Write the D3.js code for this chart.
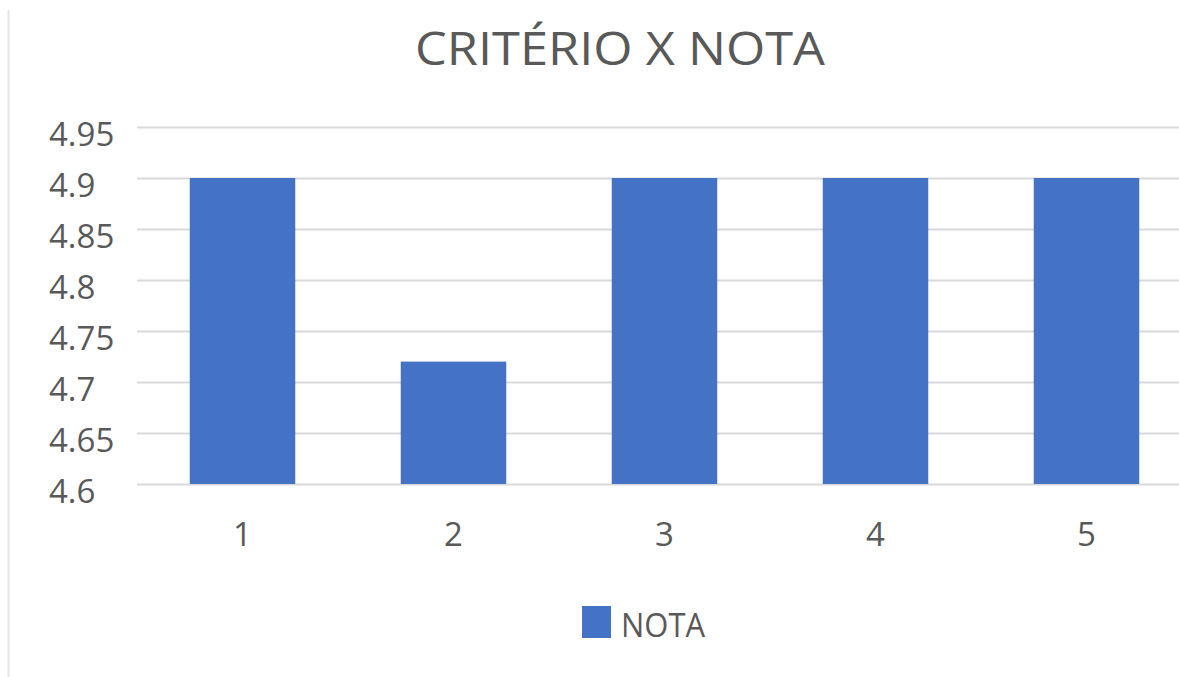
<!DOCTYPE html>
<html>
<head>
<meta charset="utf-8">
<script src="https://cdn.jsdelivr.net/npm/d3@7"></script>
<style>
  body { margin: 0; background: #fff; }
  text { font-family: "Open Sans", sans-serif; fill: #595959; }
</style>
</head>
<body>
<div id="chart"></div>
<script>
// data
const categories = ["1", "2", "3", "4", "5"]
const notas = [4.9, 4.72, 4.9, 4.9, 4.9]
const yTicks = [4.6, 4.65, 4.7, 4.75, 4.8, 4.85, 4.9, 4.95]
const seriesName = "NOTA"
const title = "CRITÉRIO X NOTA"

const W = 1179, H = 677
const margin = { left: 137, right: -13, top: 127, bottom: 193 }

const svg = d3.select("#chart").append("svg")
    .attr("width", W)
    .attr("height", H)

// outer frame line on the left
svg.append("line")
    .attr("x1", 8.5).attr("x2", 8.5)
    .attr("y1", 10).attr("y2", H)
    .attr("stroke", "#e3e3e3")
    .attr("stroke-width", 2)

const x = d3.scaleBand()
    .domain(categories)
    .range([margin.left, W - margin.right])
    .paddingInner(0.5)
    .paddingOuter(0.25)

const y = d3.scaleLinear()
    .domain([4.6, 4.95])
    .range([H - margin.bottom, margin.top])

// gridlines + y labels
const yAxis = d3.axisLeft(y)
    .tickValues(yTicks)
    .tickFormat(d => String(+d.toFixed(2)))
    .tickSizeInner(-(W - margin.left))
    .tickSizeOuter(0)

const gy = svg.append("g")
    .attr("transform", "translate(" + margin.left + ",0)")
    .call(yAxis)
gy.select(".domain").remove()
gy.selectAll("line")
    .attr("stroke", "#d9d9d9")
    .attr("stroke-width", 2)
gy.selectAll("text")
    .attr("x", 49 - margin.left)
    .attr("dy", "0.55em")
    .attr("text-anchor", "start")
    .attr("font-size", "33px")
    .attr("fill", "#595959")

// bars
svg.append("g").selectAll("rect")
    .data(notas)
    .enter()
    .append("rect")
    .attr("x", (d, i) => x(categories[i]))
    .attr("y", d => y(d))
    .attr("width", x.bandwidth())
    .attr("height", d => y(4.6) - y(d))
    .attr("fill", "#4472c4")

// x axis labels
const gx = svg.append("g")
    .attr("transform", "translate(0," + y(4.6) + ")")
    .call(d3.axisBottom(x).tickSize(0))
gx.select(".domain").remove()
gx.selectAll("text")
    .attr("y", 62)
    .attr("dy", 0)
    .attr("font-size", "33px")
    .attr("fill", "#595959")

// title
svg.append("text")
    .attr("x", 620)
    .attr("y", 65)
    .attr("text-anchor", "middle")
    .attr("font-size", "45px")
    .attr("textLength", 410)
    .attr("lengthAdjust", "spacingAndGlyphs")
    .text(title)

// legend
const lg = svg.append("g")
svg.append("rect")
    .attr("x", 582).attr("y", 606)
    .attr("width", 29).attr("height", 32)
    .attr("fill", "#4472c4")
svg.append("text")
    .attr("x", 621)
    .attr("y", 637)
    .attr("font-size", "32px")
    .attr("textLength", 84)
    .attr("lengthAdjust", "spacingAndGlyphs")
    .text(seriesName)
</script>
</body>
</html>
